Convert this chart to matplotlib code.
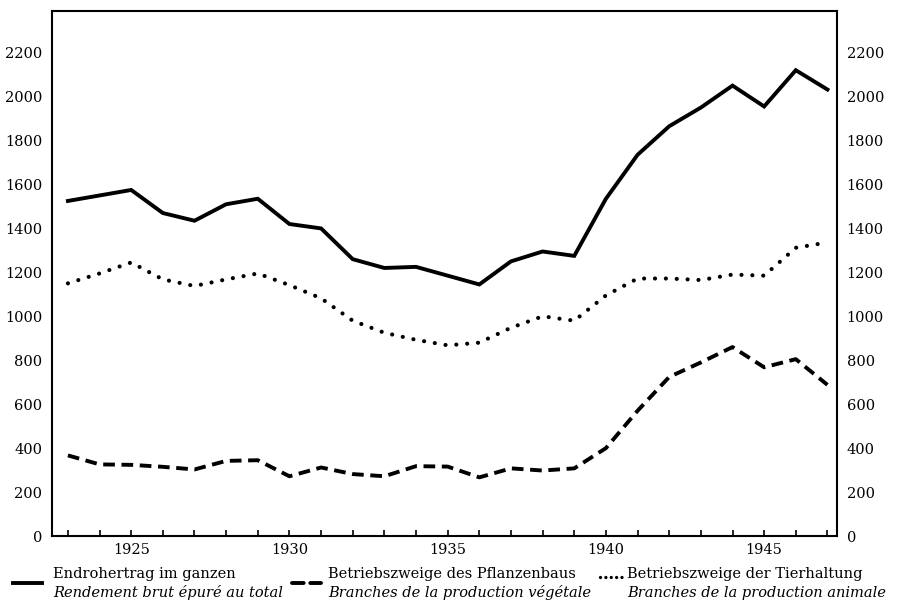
import matplotlib.pyplot as plt
from matplotlib.lines import Line2D
from matplotlib.ticker import MultipleLocator

plt.rcParams["font.family"] = "DejaVu Serif"
plt.rcParams["font.size"] = 10

years = list(range(1923, 1948))
total = [1525, 1550, 1575, 1470, 1435, 1510, 1535, 1420, 1400, 1260, 1220, 1225,
         1185, 1145, 1250, 1295, 1275, 1535, 1735, 1865, 1950, 2050, 1955, 2120, 2032]
crops = [367, 326, 324, 315, 303, 342, 345, 272, 312, 282, 272, 318,
         316, 267, 308, 298, 308, 400, 570, 724, 790, 860, 768, 805, 688]
animals = [1150, 1195, 1245, 1168, 1138, 1168, 1195, 1142, 1082, 980, 925, 893,
           868, 880, 948, 1000, 980, 1095, 1172, 1172, 1165, 1190, 1185, 1312, 1336]

labels_de = ["Endrohertrag im ganzen", "Betriebszweige des Pflanzenbaus",
             "Betriebszweige der Tierhaltung"]
labels_fr = ["Rendement brut épuré au total", "Branches de la production végétale",
             "Branches de la production animale"]

DASHED = (0, (3.0, 1.7))
DOTTED = (0, (0.01, 2.6))


def main() -> None:
    fig = plt.figure(figsize=(8.98, 6.05), dpi=100)
    ax = fig.add_axes([0.058, 0.114, 0.874, 0.868])

    ax.plot(years, total, color="black", lw=2.8, solid_joinstyle="miter")
    ax.plot(years, crops, color="black", lw=2.8, linestyle=DASHED)
    ax.plot(years, animals, color="black", lw=3.0, linestyle=DOTTED,
            dash_capstyle="round")

    ax.set_xlim(1922.5, 1947.3)
    ax.set_ylim(0, 2390)
    ax.xaxis.set_major_locator(MultipleLocator(5))
    ax.xaxis.set_minor_locator(MultipleLocator(1))
    ax.yaxis.set_major_locator(MultipleLocator(200))
    ax.tick_params(axis="x", which="both", direction="in", length=4, width=1.2,
                   pad=5, labelsize=10.5)
    ax.tick_params(axis="y", which="both", length=0, pad=7, labelsize=10.5,
                   labelright=True)
    for sp in ax.spines.values():
        sp.set_linewidth(1.5)

    # legend drawn below the plot
    xs_line = [(0.014, 0.047), (0.325, 0.358), (0.668, 0.693)]
    xs_text = [0.059, 0.365, 0.698]
    styles = [("-", 2.8), (DASHED, 2.8), ((0, (0.01, 1.6)), 2.4)]
    for i in range(3):
        (x0, x1), (ls, lw) = xs_line[i], styles[i]
        yl = 0.036 if i < 2 else 0.046
        fig.add_artist(Line2D([x0, x1], [yl, yl], color="black", lw=lw,
                              linestyle=ls, dash_capstyle="round",
                              transform=fig.transFigure))
        fig.text(xs_text[i], 0.052, labels_de[i], fontsize=10.5, va="center")
        fig.text(xs_text[i], 0.020, labels_fr[i], fontsize=10.5, va="center",
                 style="italic")

    fig.savefig("out.png", dpi=100)


main() if __name__ == "__main__" else None
